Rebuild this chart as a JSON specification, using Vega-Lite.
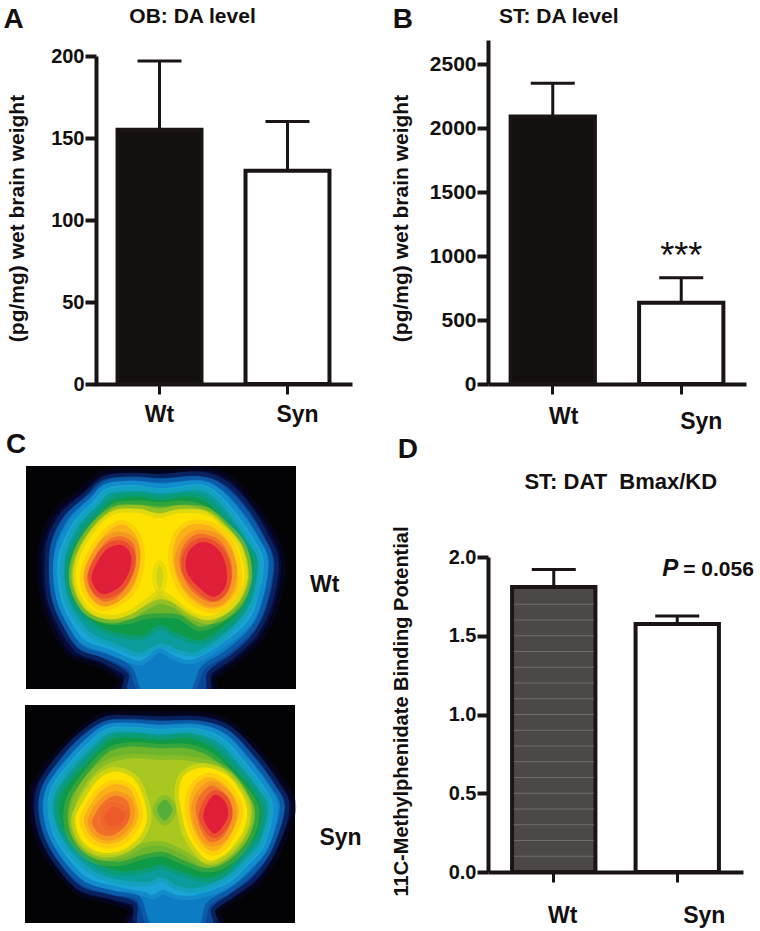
{"$schema":"https://vega.github.io/schema/vega-lite/v6.json","width":760,"height":931,"autosize":"none","padding":0,"background":"white",
"config":{"view":{"stroke":null},"text":{"font":"Liberation Sans","fontWeight":"bold","color":"#141010"},
"axis":{"grid":false,"domainColor":"#1a1414","domainWidth":4,"tickColor":"#1a1414","tickWidth":4,"tickSize":11,"labelFont":"Liberation Sans","labelFontWeight":"bold","labelFontSize":20,"labelColor":"#141010","labelPadding":1,"titleFont":"Liberation Sans","titleFontWeight":"bold","titleFontSize":21,"titleColor":"#141010","titleAngle":-90,"titleBaseline":"middle","titleAlign":"center"},
"axisX":{"labelFontSize":23,"labelAngle":0,"tickWidth":3,"tickSize":10,"title":null}},
"datasets":{
"wt":[
{"g":1,"k":"a","x":490,"y":72},{"g":1,"k":"a","x":400,"y":68},{"g":1,"k":"a","x":310,"y":75},{"g":1,"k":"a","x":250,"y":125},{"g":1,"k":"a","x":180,"y":180},{"g":1,"k":"a","x":135,"y":260},{"g":1,"k":"a","x":125,"y":350},{"g":1,"k":"a","x":135,"y":450},{"g":1,"k":"a","x":165,"y":530},{"g":1,"k":"a","x":215,"y":610},{"g":1,"k":"a","x":300,"y":640},{"g":1,"k":"a","x":370,"y":690},{"g":1,"k":"a","x":370,"y":735},{"g":1,"k":"a","x":625,"y":735},{"g":1,"k":"a","x":640,"y":680},{"g":1,"k":"a","x":720,"y":620},{"g":1,"k":"a","x":780,"y":560},{"g":1,"k":"a","x":825,"y":470},{"g":1,"k":"a","x":845,"y":340},{"g":1,"k":"a","x":815,"y":250},{"g":1,"k":"a","x":755,"y":160},{"g":1,"k":"a","x":690,"y":90},{"g":1,"k":"a","x":610,"y":62},
{"g":2,"k":"b","x":490,"y":85},{"g":2,"k":"b","x":400,"y":82},{"g":2,"k":"b","x":320,"y":90},{"g":2,"k":"b","x":265,"y":135},{"g":2,"k":"b","x":195,"y":195},{"g":2,"k":"b","x":155,"y":270},{"g":2,"k":"b","x":147,"y":350},{"g":2,"k":"b","x":155,"y":445},{"g":2,"k":"b","x":185,"y":520},{"g":2,"k":"b","x":235,"y":595},{"g":2,"k":"b","x":310,"y":625},{"g":2,"k":"b","x":385,"y":670},{"g":2,"k":"b","x":395,"y":735},{"g":2,"k":"b","x":600,"y":735},{"g":2,"k":"b","x":625,"y":665},{"g":2,"k":"b","x":700,"y":610},{"g":2,"k":"b","x":765,"y":545},{"g":2,"k":"b","x":805,"y":460},{"g":2,"k":"b","x":825,"y":340},{"g":2,"k":"b","x":795,"y":260},{"g":2,"k":"b","x":740,"y":170},{"g":2,"k":"b","x":675,"y":105},{"g":2,"k":"b","x":600,"y":78},
{"g":3,"k":"c","x":490,"y":98},{"g":3,"k":"c","x":400,"y":92},{"g":3,"k":"c","x":315,"y":102},{"g":3,"k":"c","x":270,"y":145},{"g":3,"k":"c","x":210,"y":200},{"g":3,"k":"c","x":170,"y":275},{"g":3,"k":"c","x":160,"y":350},{"g":3,"k":"c","x":168,"y":440},{"g":3,"k":"c","x":195,"y":510},{"g":3,"k":"c","x":245,"y":585},{"g":3,"k":"c","x":320,"y":612},{"g":3,"k":"c","x":395,"y":650},{"g":3,"k":"c","x":440,"y":735},{"g":3,"k":"c","x":560,"y":735},{"g":3,"k":"c","x":605,"y":650},{"g":3,"k":"c","x":680,"y":600},{"g":3,"k":"c","x":755,"y":530},{"g":3,"k":"c","x":790,"y":450},{"g":3,"k":"c","x":808,"y":335},{"g":3,"k":"c","x":780,"y":265},{"g":3,"k":"c","x":725,"y":180},{"g":3,"k":"c","x":660,"y":115},{"g":3,"k":"c","x":600,"y":92},
{"g":4,"k":"d","x":490,"y":115},{"g":4,"k":"d","x":400,"y":105},{"g":4,"k":"d","x":320,"y":115},{"g":4,"k":"d","x":280,"y":155},{"g":4,"k":"d","x":225,"y":210},{"g":4,"k":"d","x":185,"y":285},{"g":4,"k":"d","x":172,"y":350},{"g":4,"k":"d","x":180,"y":435},{"g":4,"k":"d","x":205,"y":500},{"g":4,"k":"d","x":255,"y":570},{"g":4,"k":"d","x":330,"y":598},{"g":4,"k":"d","x":410,"y":632},{"g":4,"k":"d","x":440,"y":622},{"g":4,"k":"d","x":480,"y":595},{"g":4,"k":"d","x":530,"y":620},{"g":4,"k":"d","x":580,"y":628},{"g":4,"k":"d","x":660,"y":585},{"g":4,"k":"d","x":740,"y":520},{"g":4,"k":"d","x":775,"y":445},{"g":4,"k":"d","x":793,"y":335},{"g":4,"k":"d","x":765,"y":270},{"g":4,"k":"d","x":710,"y":190},{"g":4,"k":"d","x":650,"y":125},{"g":4,"k":"d","x":595,"y":103},
{"g":5,"k":"e","x":490,"y":130},{"g":5,"k":"e","x":410,"y":122},{"g":5,"k":"e","x":330,"y":130},{"g":5,"k":"e","x":295,"y":165},{"g":5,"k":"e","x":240,"y":220},{"g":5,"k":"e","x":205,"y":290},{"g":5,"k":"e","x":193,"y":350},{"g":5,"k":"e","x":200,"y":430},{"g":5,"k":"e","x":225,"y":490},{"g":5,"k":"e","x":275,"y":550},{"g":5,"k":"e","x":345,"y":580},{"g":5,"k":"e","x":420,"y":608},{"g":5,"k":"e","x":480,"y":580},{"g":5,"k":"e","x":540,"y":600},{"g":5,"k":"e","x":590,"y":605},{"g":5,"k":"e","x":660,"y":565},{"g":5,"k":"e","x":720,"y":510},{"g":5,"k":"e","x":760,"y":440},{"g":5,"k":"e","x":775,"y":335},{"g":5,"k":"e","x":745,"y":275},{"g":5,"k":"e","x":695,"y":200},{"g":5,"k":"e","x":640,"y":140},{"g":5,"k":"e","x":590,"y":120},
{"g":6,"k":"f","x":490,"y":150},{"g":6,"k":"f","x":420,"y":140},{"g":6,"k":"f","x":345,"y":148},{"g":6,"k":"f","x":310,"y":180},{"g":6,"k":"f","x":260,"y":232},{"g":6,"k":"f","x":222,"y":295},{"g":6,"k":"f","x":208,"y":350},{"g":6,"k":"f","x":215,"y":425},{"g":6,"k":"f","x":245,"y":480},{"g":6,"k":"f","x":295,"y":525},{"g":6,"k":"f","x":360,"y":550},{"g":6,"k":"f","x":430,"y":555},{"g":6,"k":"f","x":480,"y":525},{"g":6,"k":"f","x":530,"y":548},{"g":6,"k":"f","x":600,"y":570},{"g":6,"k":"f","x":665,"y":535},{"g":6,"k":"f","x":715,"y":490},{"g":6,"k":"f","x":745,"y":430},{"g":6,"k":"f","x":760,"y":335},{"g":6,"k":"f","x":730,"y":280},{"g":6,"k":"f","x":680,"y":215},{"g":6,"k":"f","x":625,"y":160},{"g":6,"k":"f","x":570,"y":140},
{"g":7,"k":"g","x":485,"y":170},{"g":7,"k":"g","x":420,"y":165},{"g":7,"k":"g","x":350,"y":170},{"g":7,"k":"g","x":310,"y":200},{"g":7,"k":"g","x":265,"y":250},{"g":7,"k":"g","x":232,"y":310},{"g":7,"k":"g","x":222,"y":370},{"g":7,"k":"g","x":232,"y":430},{"g":7,"k":"g","x":265,"y":480},{"g":7,"k":"g","x":320,"y":510},{"g":7,"k":"g","x":390,"y":508},{"g":7,"k":"g","x":430,"y":495},{"g":7,"k":"g","x":480,"y":490},{"g":7,"k":"g","x":540,"y":495},{"g":7,"k":"g","x":600,"y":530},{"g":7,"k":"g","x":655,"y":510},{"g":7,"k":"g","x":710,"y":470},{"g":7,"k":"g","x":735,"y":420},{"g":7,"k":"g","x":742,"y":335},{"g":7,"k":"g","x":715,"y":285},{"g":7,"k":"g","x":665,"y":225},{"g":7,"k":"g","x":615,"y":180},{"g":7,"k":"g","x":550,"y":165},
{"g":8,"k":"h","x":480,"y":190},{"g":8,"k":"h","x":420,"y":178},{"g":8,"k":"h","x":350,"y":180},{"g":8,"k":"h","x":305,"y":208},{"g":8,"k":"h","x":262,"y":258},{"g":8,"k":"h","x":232,"y":316},{"g":8,"k":"h","x":220,"y":375},{"g":8,"k":"h","x":232,"y":435},{"g":8,"k":"h","x":270,"y":488},{"g":8,"k":"h","x":335,"y":507},{"g":8,"k":"h","x":395,"y":492},{"g":8,"k":"h","x":440,"y":465},{"g":8,"k":"h","x":480,"y":448},{"g":8,"k":"h","x":525,"y":460},{"g":8,"k":"h","x":570,"y":490},{"g":8,"k":"h","x":625,"y":510},{"g":8,"k":"h","x":685,"y":487},{"g":8,"k":"h","x":728,"y":435},{"g":8,"k":"h","x":745,"y":370},{"g":8,"k":"h","x":725,"y":285},{"g":8,"k":"h","x":675,"y":228},{"g":8,"k":"h","x":620,"y":185},{"g":8,"k":"h","x":545,"y":178},
{"g":9,"k":"i","x":480,"y":205},{"g":9,"k":"i","x":420,"y":190},{"g":9,"k":"i","x":355,"y":190},{"g":9,"k":"i","x":310,"y":215},{"g":9,"k":"i","x":270,"y":265},{"g":9,"k":"i","x":240,"y":320},{"g":9,"k":"i","x":228,"y":375},{"g":9,"k":"i","x":240,"y":430},{"g":9,"k":"i","x":275,"y":478},{"g":9,"k":"i","x":335,"y":495},{"g":9,"k":"i","x":390,"y":480},{"g":9,"k":"i","x":440,"y":445},{"g":9,"k":"i","x":480,"y":420},{"g":9,"k":"i","x":520,"y":440},{"g":9,"k":"i","x":570,"y":480},{"g":9,"k":"i","x":625,"y":498},{"g":9,"k":"i","x":680,"y":475},{"g":9,"k":"i","x":720,"y":430},{"g":9,"k":"i","x":735,"y":370},{"g":9,"k":"i","x":715,"y":290},{"g":9,"k":"i","x":670,"y":235},{"g":9,"k":"i","x":620,"y":195},{"g":9,"k":"i","x":540,"y":190},
{"g":10,"k":"h","x":480,"y":345},{"g":10,"k":"h","x":490,"y":380},{"g":10,"k":"h","x":480,"y":420},{"g":10,"k":"h","x":470,"y":380},
{"g":11,"k":"j","x":375,"y":225},{"g":11,"k":"j","x":330,"y":240},{"g":11,"k":"j","x":285,"y":295},{"g":11,"k":"j","x":255,"y":365},{"g":11,"k":"j","x":262,"y":425},{"g":11,"k":"j","x":300,"y":468},{"g":11,"k":"j","x":345,"y":460},{"g":11,"k":"j","x":395,"y":420},{"g":11,"k":"j","x":420,"y":350},{"g":11,"k":"j","x":415,"y":270},
{"g":12,"k":"k","x":370,"y":260},{"g":12,"k":"k","x":325,"y":270},{"g":12,"k":"k","x":285,"y":320},{"g":12,"k":"k","x":265,"y":375},{"g":12,"k":"k","x":280,"y":430},{"g":12,"k":"k","x":320,"y":455},{"g":12,"k":"k","x":370,"y":425},{"g":12,"k":"k","x":402,"y":360},{"g":12,"k":"k","x":405,"y":290},
{"g":13,"k":"l","x":365,"y":285},{"g":13,"k":"l","x":325,"y":295},{"g":13,"k":"l","x":293,"y":335},{"g":13,"k":"l","x":275,"y":385},{"g":13,"k":"l","x":295,"y":425},{"g":13,"k":"l","x":325,"y":430},{"g":13,"k":"l","x":365,"y":405},{"g":13,"k":"l","x":392,"y":355},{"g":13,"k":"l","x":392,"y":310},
{"g":14,"k":"j","x":570,"y":225},{"g":14,"k":"j","x":530,"y":265},{"g":14,"k":"j","x":520,"y":340},{"g":14,"k":"j","x":550,"y":420},{"g":14,"k":"j","x":610,"y":470},{"g":14,"k":"j","x":665,"y":470},{"g":14,"k":"j","x":710,"y":420},{"g":14,"k":"j","x":712,"y":350},{"g":14,"k":"j","x":690,"y":280},{"g":14,"k":"j","x":635,"y":230},
{"g":15,"k":"k","x":585,"y":255},{"g":15,"k":"k","x":550,"y":290},{"g":15,"k":"k","x":540,"y":345},{"g":15,"k":"k","x":570,"y":415},{"g":15,"k":"k","x":625,"y":455},{"g":15,"k":"k","x":670,"y":445},{"g":15,"k":"k","x":695,"y":395},{"g":15,"k":"k","x":695,"y":335},{"g":15,"k":"k","x":665,"y":275},{"g":15,"k":"k","x":625,"y":255},
{"g":16,"k":"l","x":595,"y":280},{"g":16,"k":"l","x":565,"y":310},{"g":16,"k":"l","x":560,"y":360},{"g":16,"k":"l","x":590,"y":405},{"g":16,"k":"l","x":640,"y":440},{"g":16,"k":"l","x":675,"y":415},{"g":16,"k":"l","x":682,"y":365},{"g":16,"k":"l","x":665,"y":310},{"g":16,"k":"l","x":630,"y":280}
],
"syn":[
{"g":1,"k":"a","x":480,"y":62},{"g":1,"k":"a","x":400,"y":60},{"g":1,"k":"a","x":310,"y":65},{"g":1,"k":"a","x":240,"y":115},{"g":1,"k":"a","x":165,"y":190},{"g":1,"k":"a","x":110,"y":270},{"g":1,"k":"a","x":100,"y":340},{"g":1,"k":"a","x":120,"y":430},{"g":1,"k":"a","x":165,"y":510},{"g":1,"k":"a","x":240,"y":590},{"g":1,"k":"a","x":330,"y":615},{"g":1,"k":"a","x":400,"y":645},{"g":1,"k":"a","x":400,"y":700},{"g":1,"k":"a","x":650,"y":700},{"g":1,"k":"a","x":645,"y":650},{"g":1,"k":"a","x":700,"y":610},{"g":1,"k":"a","x":770,"y":560},{"g":1,"k":"a","x":830,"y":470},{"g":1,"k":"a","x":875,"y":340},{"g":1,"k":"a","x":840,"y":260},{"g":1,"k":"a","x":770,"y":170},{"g":1,"k":"a","x":690,"y":90},{"g":1,"k":"a","x":600,"y":62},
{"g":2,"k":"b","x":480,"y":78},{"g":2,"k":"b","x":400,"y":75},{"g":2,"k":"b","x":320,"y":78},{"g":2,"k":"b","x":245,"y":125},{"g":2,"k":"b","x":180,"y":195},{"g":2,"k":"b","x":130,"y":270},{"g":2,"k":"b","x":118,"y":340},{"g":2,"k":"b","x":135,"y":425},{"g":2,"k":"b","x":180,"y":505},{"g":2,"k":"b","x":245,"y":575},{"g":2,"k":"b","x":335,"y":600},{"g":2,"k":"b","x":410,"y":625},{"g":2,"k":"b","x":430,"y":700},{"g":2,"k":"b","x":625,"y":700},{"g":2,"k":"b","x":635,"y":640},{"g":2,"k":"b","x":695,"y":595},{"g":2,"k":"b","x":760,"y":545},{"g":2,"k":"b","x":815,"y":465},{"g":2,"k":"b","x":855,"y":340},{"g":2,"k":"b","x":825,"y":270},{"g":2,"k":"b","x":760,"y":180},{"g":2,"k":"b","x":685,"y":105},{"g":2,"k":"b","x":600,"y":78},
{"g":3,"k":"c","x":480,"y":90},{"g":3,"k":"c","x":400,"y":85},{"g":3,"k":"c","x":320,"y":90},{"g":3,"k":"c","x":255,"y":135},{"g":3,"k":"c","x":190,"y":205},{"g":3,"k":"c","x":142,"y":275},{"g":3,"k":"c","x":130,"y":340},{"g":3,"k":"c","x":147,"y":420},{"g":3,"k":"c","x":190,"y":495},{"g":3,"k":"c","x":255,"y":560},{"g":3,"k":"c","x":340,"y":587},{"g":3,"k":"c","x":420,"y":605},{"g":3,"k":"c","x":465,"y":700},{"g":3,"k":"c","x":590,"y":700},{"g":3,"k":"c","x":620,"y":625},{"g":3,"k":"c","x":690,"y":580},{"g":3,"k":"c","x":750,"y":530},{"g":3,"k":"c","x":805,"y":460},{"g":3,"k":"c","x":840,"y":340},{"g":3,"k":"c","x":812,"y":275},{"g":3,"k":"c","x":748,"y":190},{"g":3,"k":"c","x":680,"y":118},{"g":3,"k":"c","x":600,"y":90},
{"g":4,"k":"d","x":480,"y":102},{"g":4,"k":"d","x":400,"y":96},{"g":4,"k":"d","x":325,"y":100},{"g":4,"k":"d","x":265,"y":145},{"g":4,"k":"d","x":200,"y":215},{"g":4,"k":"d","x":155,"y":280},{"g":4,"k":"d","x":145,"y":340},{"g":4,"k":"d","x":160,"y":415},{"g":4,"k":"d","x":205,"y":490},{"g":4,"k":"d","x":265,"y":550},{"g":4,"k":"d","x":350,"y":575},{"g":4,"k":"d","x":430,"y":590},{"g":4,"k":"d","x":460,"y":600},{"g":4,"k":"d","x":490,"y":585},{"g":4,"k":"d","x":530,"y":600},{"g":4,"k":"d","x":590,"y":600},{"g":4,"k":"d","x":685,"y":565},{"g":4,"k":"d","x":745,"y":510},{"g":4,"k":"d","x":795,"y":450},{"g":4,"k":"d","x":820,"y":340},{"g":4,"k":"d","x":795,"y":280},{"g":4,"k":"d","x":735,"y":200},{"g":4,"k":"d","x":670,"y":130},{"g":4,"k":"d","x":590,"y":100},
{"g":5,"k":"e","x":480,"y":118},{"g":5,"k":"e","x":400,"y":110},{"g":5,"k":"e","x":330,"y":115},{"g":5,"k":"e","x":280,"y":155},{"g":5,"k":"e","x":215,"y":225},{"g":5,"k":"e","x":172,"y":285},{"g":5,"k":"e","x":160,"y":340},{"g":5,"k":"e","x":178,"y":410},{"g":5,"k":"e","x":220,"y":475},{"g":5,"k":"e","x":285,"y":530},{"g":5,"k":"e","x":360,"y":555},{"g":5,"k":"e","x":445,"y":562},{"g":5,"k":"e","x":485,"y":548},{"g":5,"k":"e","x":540,"y":575},{"g":5,"k":"e","x":600,"y":578},{"g":5,"k":"e","x":680,"y":545},{"g":5,"k":"e","x":735,"y":495},{"g":5,"k":"e","x":780,"y":440},{"g":5,"k":"e","x":805,"y":340},{"g":5,"k":"e","x":778,"y":285},{"g":5,"k":"e","x":720,"y":210},{"g":5,"k":"e","x":660,"y":145},{"g":5,"k":"e","x":580,"y":115},
{"g":6,"k":"f","x":480,"y":135},{"g":6,"k":"f","x":400,"y":128},{"g":6,"k":"f","x":335,"y":135},{"g":6,"k":"f","x":295,"y":170},{"g":6,"k":"f","x":235,"y":235},{"g":6,"k":"f","x":190,"y":295},{"g":6,"k":"f","x":180,"y":345},{"g":6,"k":"f","x":195,"y":405},{"g":6,"k":"f","x":240,"y":460},{"g":6,"k":"f","x":300,"y":510},{"g":6,"k":"f","x":370,"y":530},{"g":6,"k":"f","x":445,"y":520},{"g":6,"k":"f","x":485,"y":510},{"g":6,"k":"f","x":545,"y":530},{"g":6,"k":"f","x":620,"y":550},{"g":6,"k":"f","x":680,"y":525},{"g":6,"k":"f","x":730,"y":470},{"g":6,"k":"f","x":770,"y":420},{"g":6,"k":"f","x":785,"y":345},{"g":6,"k":"f","x":760,"y":290},{"g":6,"k":"f","x":700,"y":220},{"g":6,"k":"f","x":640,"y":160},{"g":6,"k":"f","x":570,"y":130},
{"g":7,"k":"g","x":480,"y":160},{"g":7,"k":"g","x":400,"y":155},{"g":7,"k":"g","x":340,"y":165},{"g":7,"k":"g","x":300,"y":195},{"g":7,"k":"g","x":250,"y":255},{"g":7,"k":"g","x":215,"y":310},{"g":7,"k":"g","x":205,"y":375},{"g":7,"k":"g","x":225,"y":440},{"g":7,"k":"g","x":280,"y":490},{"g":7,"k":"g","x":360,"y":500},{"g":7,"k":"g","x":430,"y":480},{"g":7,"k":"g","x":490,"y":472},{"g":7,"k":"g","x":560,"y":500},{"g":7,"k":"g","x":625,"y":520},{"g":7,"k":"g","x":690,"y":495},{"g":7,"k":"g","x":745,"y":430},{"g":7,"k":"g","x":765,"y":350},{"g":7,"k":"g","x":735,"y":290},{"g":7,"k":"g","x":680,"y":230},{"g":7,"k":"g","x":630,"y":185},{"g":7,"k":"g","x":560,"y":160},
{"g":8,"k":"o","x":480,"y":195},{"g":8,"k":"o","x":400,"y":190},{"g":8,"k":"o","x":330,"y":205},{"g":8,"k":"o","x":280,"y":240},{"g":8,"k":"o","x":240,"y":300},{"g":8,"k":"o","x":222,"y":375},{"g":8,"k":"o","x":245,"y":445},{"g":8,"k":"o","x":300,"y":480},{"g":8,"k":"o","x":370,"y":475},{"g":8,"k":"o","x":430,"y":445},{"g":8,"k":"o","x":490,"y":440},{"g":8,"k":"o","x":550,"y":465},{"g":8,"k":"o","x":620,"y":505},{"g":8,"k":"o","x":680,"y":480},{"g":8,"k":"o","x":735,"y":420},{"g":8,"k":"o","x":750,"y":345},{"g":8,"k":"o","x":720,"y":280},{"g":8,"k":"o","x":670,"y":225},{"g":8,"k":"o","x":610,"y":205},{"g":8,"k":"o","x":540,"y":195},
{"g":9,"k":"n","x":495,"y":315},{"g":9,"k":"n","x":518,"y":345},{"g":9,"k":"n","x":495,"y":378},{"g":9,"k":"n","x":472,"y":345},
{"g":10,"k":"i","x":345,"y":230},{"g":10,"k":"i","x":295,"y":255},{"g":10,"k":"i","x":250,"y":322},{"g":10,"k":"i","x":228,"y":375},{"g":10,"k":"i","x":248,"y":438},{"g":10,"k":"i","x":300,"y":472},{"g":10,"k":"i","x":365,"y":467},{"g":10,"k":"i","x":418,"y":428},{"g":10,"k":"i","x":442,"y":370},{"g":10,"k":"i","x":427,"y":297},{"g":10,"k":"i","x":398,"y":248},
{"g":11,"k":"j","x":345,"y":268},{"g":11,"k":"j","x":305,"y":288},{"g":11,"k":"j","x":272,"y":332},{"g":11,"k":"j","x":253,"y":375},{"g":11,"k":"j","x":272,"y":423},{"g":11,"k":"j","x":315,"y":447},{"g":11,"k":"j","x":365,"y":437},{"g":11,"k":"j","x":403,"y":398},{"g":11,"k":"j","x":417,"y":355},{"g":11,"k":"j","x":402,"y":302},{"g":11,"k":"j","x":385,"y":278},
{"g":12,"k":"k","x":345,"y":303},{"g":12,"k":"k","x":312,"y":322},{"g":12,"k":"k","x":288,"y":355},{"g":12,"k":"k","x":278,"y":385},{"g":12,"k":"k","x":300,"y":417},{"g":12,"k":"k","x":340,"y":422},{"g":12,"k":"k","x":378,"y":393},{"g":12,"k":"k","x":392,"y":355},{"g":12,"k":"k","x":382,"y":317},
{"g":13,"k":"m","x":340,"y":335},{"g":13,"k":"m","x":315,"y":365},{"g":13,"k":"m","x":330,"y":395},{"g":13,"k":"m","x":365,"y":385},{"g":13,"k":"m","x":375,"y":355},
{"g":14,"k":"i","x":610,"y":218},{"g":14,"k":"i","x":557,"y":238},{"g":14,"k":"i","x":538,"y":280},{"g":14,"k":"i","x":543,"y":340},{"g":14,"k":"i","x":563,"y":420},{"g":14,"k":"i","x":602,"y":478},{"g":14,"k":"i","x":635,"y":497},{"g":14,"k":"i","x":688,"y":468},{"g":14,"k":"i","x":732,"y":405},{"g":14,"k":"i","x":742,"y":345},{"g":14,"k":"i","x":722,"y":290},{"g":14,"k":"i","x":678,"y":238},
{"g":15,"k":"j","x":620,"y":248},{"g":15,"k":"j","x":582,"y":278},{"g":15,"k":"j","x":568,"y":335},{"g":15,"k":"j","x":583,"y":408},{"g":15,"k":"j","x":620,"y":462},{"g":15,"k":"j","x":660,"y":462},{"g":15,"k":"j","x":702,"y":403},{"g":15,"k":"j","x":717,"y":345},{"g":15,"k":"j","x":698,"y":297},{"g":15,"k":"j","x":660,"y":258},
{"g":16,"k":"k","x":630,"y":273},{"g":16,"k":"k","x":597,"y":307},{"g":16,"k":"k","x":588,"y":350},{"g":16,"k":"k","x":607,"y":413},{"g":16,"k":"k","x":635,"y":442},{"g":16,"k":"k","x":673,"y":423},{"g":16,"k":"k","x":697,"y":365},{"g":16,"k":"k","x":688,"y":312},{"g":16,"k":"k","x":660,"y":283},
{"g":17,"k":"l","x":645,"y":300},{"g":17,"k":"l","x":618,"y":335},{"g":17,"k":"l","x":612,"y":375},{"g":17,"k":"l","x":640,"y":415},{"g":17,"k":"l","x":665,"y":400},{"g":17,"k":"l","x":685,"y":360},{"g":17,"k":"l","x":675,"y":320}
]},
"resolve":{"scale":{"x":"independent","y":"independent","fill":"independent","stroke":"independent"},"axis":{"x":"independent","y":"independent"}},
"layer":[
{"encoding":{"x":{"field":"g","type":"nominal","sort":["Wt","Syn"],"scale":{"type":"band","domain":["Wt","Syn"],"range":[95,352],"paddingInner":0.344,"paddingOuter":0.176},"axis":{"orient":"bottom","offset":-547,"labelOffset":{"condition":{"test":"datum.value=='Syn'","value":10},"value":0},"labelPadding":9}},
"y":{"field":"v","type":"quantitative","scale":{"domain":[0,200],"range":[384,56],"nice":false},"axis":{"orient":"left","offset":-96,"values":[0,50,100,150,200],"title":"(pg/mg) wet brain weight","titleX":-79,"titleY":218}}},
"layer":[
{"data":{"values":[{"g":"Wt","v":197,"b":155},{"g":"Syn","v":160,"b":130}]},"mark":{"type":"rule","color":"#1a1414","strokeWidth":3},"encoding":{"y2":{"field":"b"}}},
{"data":{"values":[{"g":"Wt","v":197},{"g":"Syn","v":160}]},"mark":{"type":"tick","color":"#1a1414","size":44,"thickness":3,"orient":"horizontal","opacity":1}},
{"data":{"values":[{"g":"Wt","v":155},{"g":"Syn","v":130}]},"mark":{"type":"bar","stroke":"#1a1414","strokeWidth":4},"encoding":{"fill":{"field":"g","type":"nominal","legend":null,"scale":{"domain":["Wt","Syn"],"range":["#141010","#ffffff"]}}}},
{"data":{"values":[{"g":"Wt","v":220,"t":"OB: DA level"}]},"mark":{"type":"text","fontSize":21,"dx":33,"align":"center","baseline":"alphabetic"},"encoding":{"text":{"field":"t"}}},
{"data":{"values":[{"g":"Wt","v":217,"t":"A"}]},"mark":{"type":"text","fontSize":28,"dx":-156,"align":"left","baseline":"alphabetic"},"encoding":{"text":{"field":"t"}}}
]},
{"encoding":{"x":{"field":"g","type":"nominal","sort":["Wt","Syn"],"scale":{"type":"band","domain":["Wt","Syn"],"range":[488,746],"paddingInner":0.344,"paddingOuter":0.176},"axis":{"orient":"bottom","offset":-547,"labelOffset":{"condition":{"test":"datum.value=='Syn'","value":20},"value":11},"labelPadding":{"condition":{"test":"datum.value=='Syn'","value":16},"value":11}}},
"y":{"field":"v","type":"quantitative","scale":{"domain":[0,2688],"range":[384,40],"nice":false},"axis":{"orient":"left","offset":-488,"values":[0,500,1000,1500,2000,2500],"format":"d","labelFontSize":21,"title":"(pg/mg) wet brain weight","titleX":-87,"titleY":218}}},
"layer":[
{"data":{"values":[{"g":"Wt","v":2350,"b":2090},{"g":"Syn","v":830,"b":635}]},"mark":{"type":"rule","color":"#1a1414","strokeWidth":3},"encoding":{"y2":{"field":"b"}}},
{"data":{"values":[{"g":"Wt","v":2350},{"g":"Syn","v":830}]},"mark":{"type":"tick","color":"#1a1414","size":44,"thickness":3,"orient":"horizontal","opacity":1}},
{"data":{"values":[{"g":"Wt","v":2090},{"g":"Syn","v":635}]},"mark":{"type":"bar","stroke":"#1a1414","strokeWidth":4},"encoding":{"fill":{"field":"g","type":"nominal","legend":null,"scale":{"domain":["Wt","Syn"],"range":["#141010","#ffffff"]}}}},
{"data":{"values":[{"g":"Syn","v":906,"t":"***"}]},"mark":{"type":"text","fontSize":36,"fontWeight":"normal","align":"center","baseline":"alphabetic"},"encoding":{"text":{"field":"t"}}},
{"data":{"values":[{"g":"Wt","v":2820,"t":"ST: DA level"}]},"mark":{"type":"text","fontSize":21,"dx":6,"align":"center","baseline":"alphabetic"},"encoding":{"text":{"field":"t"}}},
{"data":{"values":[{"g":"Wt","v":2781,"t":"B"}]},"mark":{"type":"text","fontSize":28,"dx":-160,"align":"left","baseline":"alphabetic"},"encoding":{"text":{"field":"t"}}}
]},
{"encoding":{"x":{"field":"g","type":"nominal","sort":["Wt","Syn"],"scale":{"type":"band","domain":["Wt","Syn"],"range":[488,743],"paddingInner":0.325,"paddingOuter":0.195},"axis":{"orient":"bottom","offset":-59,"labelOffset":{"condition":{"test":"datum.value=='Syn'","value":27},"value":9},"labelPadding":22}},
"y":{"field":"v","type":"quantitative","scale":{"domain":[0,2],"range":[872,557],"nice":false},"axis":{"orient":"left","offset":-488,"values":[0,0.5,1,1.5,2],"format":".1f","title":"11C-Methylphenidate Binding Potential","titleFontSize":20,"titleX":-87,"titleY":711}}},
"layer":[
{"data":{"values":[{"g":"Wt","v":1.92,"b":1.81},{"g":"Syn","v":1.625,"b":1.575}]},"mark":{"type":"rule","color":"#1a1414","strokeWidth":3},"encoding":{"y2":{"field":"b"}}},
{"data":{"values":[{"g":"Wt","v":1.92},{"g":"Syn","v":1.625}]},"mark":{"type":"tick","color":"#1a1414","size":44,"thickness":3,"orient":"horizontal","opacity":1}},
{"data":{"values":[{"g":"Wt","v":1.81},{"g":"Syn","v":1.575}]},"mark":{"type":"bar","stroke":"#1a1414","strokeWidth":4},"encoding":{"fill":{"field":"g","type":"nominal","legend":null,"scale":{"domain":["Wt","Syn"],"range":["#4c4848","#ffffff"]}}}},
{"data":{"values":[{"g":"Wt","v":0.1},{"g":"Wt","v":0.2},{"g":"Wt","v":0.3},{"g":"Wt","v":0.4},{"g":"Wt","v":0.5},{"g":"Wt","v":0.6},{"g":"Wt","v":0.7},{"g":"Wt","v":0.8},{"g":"Wt","v":0.9},{"g":"Wt","v":1.0},{"g":"Wt","v":1.1},{"g":"Wt","v":1.2},{"g":"Wt","v":1.3},{"g":"Wt","v":1.4},{"g":"Wt","v":1.5},{"g":"Wt","v":1.6},{"g":"Wt","v":1.7}]},"mark":{"type":"tick","color":"#8a8686","size":80,"thickness":1,"orient":"horizontal","opacity":0.6}},
{"data":{"values":[{"g":"Syn","v":1.879,"t":"P"}]},"mark":{"type":"text","fontSize":24,"fontStyle":"italic","dx":-15,"align":"left","baseline":"alphabetic"},"encoding":{"text":{"field":"t"}}},
{"data":{"values":[{"g":"Syn","v":1.879,"t":"= 0.056"}]},"mark":{"type":"text","fontSize":21,"dx":6,"align":"left","baseline":"alphabetic"},"encoding":{"text":{"field":"t"}}},
{"data":{"values":[{"g":"Wt","v":2.432,"t":"ST: DAT \u00a0Bmax/KD"}]},"mark":{"type":"text","fontSize":22,"dx":67,"align":"center","baseline":"alphabetic"},"encoding":{"text":{"field":"t"}}},
{"data":{"values":[{"g":"Wt","v":2.629,"t":"D"}]},"mark":{"type":"text","fontSize":28,"dx":-156,"align":"left","baseline":"alphabetic"},"encoding":{"text":{"field":"t"}}}
]},
{"encoding":{"x":{"field":"x","type":"quantitative","scale":{"domain":[78,890],"range":[26,296],"nice":false,"zero":false},"axis":null},"y":{"field":"y","type":"quantitative","scale":{"domain":[48,717],"range":[466,689],"nice":false,"zero":false},"axis":null}},
"layer":[
{"data":{"values":[{"x":78,"x2":890,"y":48,"y2":717}]},"mark":{"type":"rect","color":"#030305"},"encoding":{"x2":{"field":"x2"},"y2":{"field":"y2"}}},
{"data":{"name":"wt"},"mark":{"type":"line","interpolate":"cardinal-closed","strokeWidth":9,"strokeOpacity":0.4},"encoding":{"detail":{"field":"g"},"order":{"value":null},
"fill":{"field":"k","type":"nominal","legend":null,"scale":{"domain":["a","b","c","d","e","f","g","h","i","j","k","l","m","n","o"],"range":["#080a3c","#0a4596","#0c7cc4","#1ba6d8","#0b9c9c","#0e9a46","#6eb52e","#ccd316","#ffe300","#fbb118","#f1702a","#e01f38","#ee5a2c","#55ae38","#a8c820"]}},
"stroke":{"field":"k","type":"nominal","legend":null,"scale":{"domain":["a","b","c","d","e","f","g","h","i","j","k","l","m","n","o"],"range":["#080a3c","#0a4596","#0c7cc4","#1ba6d8","#0b9c9c","#0e9a46","#6eb52e","#ccd316","#ffe300","#fbb118","#f1702a","#e01f38","#ee5a2c","#55ae38","#a8c820"]}}}},
{"data":{"values":[{"x":78,"x2":890,"y":717,"y2":760}]},"mark":{"type":"rect","color":"#ffffff"},"encoding":{"x2":{"field":"x2"},"y2":{"field":"y2"}}},
{"data":{"values":[{"x":18,"y":9,"t":"C"}]},"mark":{"type":"text","fontSize":28,"align":"left","baseline":"alphabetic"},"encoding":{"text":{"field":"t"}}},
{"data":{"values":[{"x":932,"y":427,"t":"Wt"}]},"mark":{"type":"text","fontSize":23,"align":"left","baseline":"alphabetic"},"encoding":{"text":{"field":"t"}}}
]},
{"encoding":{"x":{"field":"x","type":"quantitative","scale":{"domain":[77,885],"range":[25,295],"nice":false,"zero":false},"axis":null},"y":{"field":"y","type":"quantitative","scale":{"domain":[30,685],"range":[705,923],"nice":false,"zero":false},"axis":null}},
"layer":[
{"data":{"values":[{"x":77,"x2":885,"y":30,"y2":685}]},"mark":{"type":"rect","color":"#030305"},"encoding":{"x2":{"field":"x2"},"y2":{"field":"y2"}}},
{"data":{"name":"syn"},"mark":{"type":"line","interpolate":"cardinal-closed","strokeWidth":9,"strokeOpacity":0.4},"encoding":{"detail":{"field":"g"},"order":{"value":null},
"fill":{"field":"k","type":"nominal","legend":null,"scale":{"domain":["a","b","c","d","e","f","g","h","i","j","k","l","m","n","o"],"range":["#080a3c","#0a4596","#0c7cc4","#1ba6d8","#0b9c9c","#0e9a46","#6eb52e","#ccd316","#ffe300","#fbb118","#f1702a","#e01f38","#ee5a2c","#55ae38","#a8c820"]}},
"stroke":{"field":"k","type":"nominal","legend":null,"scale":{"domain":["a","b","c","d","e","f","g","h","i","j","k","l","m","n","o"],"range":["#080a3c","#0a4596","#0c7cc4","#1ba6d8","#0b9c9c","#0e9a46","#6eb52e","#ccd316","#ffe300","#fbb118","#f1702a","#e01f38","#ee5a2c","#55ae38","#a8c820"]}}}},
{"data":{"values":[{"x":77,"x2":885,"y":685,"y2":710}]},"mark":{"type":"rect","color":"#ffffff"},"encoding":{"x2":{"field":"x2"},"y2":{"field":"y2"}}},
{"data":{"values":[{"x":958,"y":450,"t":"Syn"}]},"mark":{"type":"text","fontSize":23,"align":"left","baseline":"alphabetic"},"encoding":{"text":{"field":"t"}}}
]}
]}
